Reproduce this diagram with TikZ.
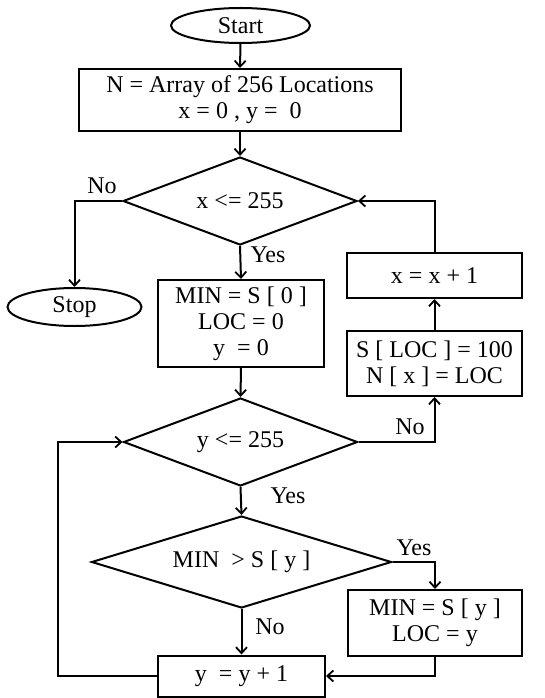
\documentclass[tikz,border=0pt]{standalone}
\usepackage{fontspec}
\setmainfont{Liberation Serif}
\usetikzlibrary{shapes.geometric,arrows.meta}
\begin{document}
\begin{tikzpicture}[x=1pt,y=-1pt,
  every node/.style={font=\fontsize{24}{26}\selectfont},
  base/.style={draw,line width=2pt,inner sep=0pt,align=center},
  term/.style={base,ellipse},
  proc/.style={base,rectangle},
  dec/.style={base,diamond},
  lbl/.style={inner sep=0pt},
  line/.style={line width=2pt},
  arr/.style={line,-{Straight Barb[length=6pt,width=11pt,line width=1.8pt]}}
]
\useasboundingbox (0,0) rectangle (545,698);
\node[term,minimum width=139pt,minimum height=35pt] (start) at (240.5,25.5) {Start};
\node[proc,minimum width=322pt,minimum height=62pt] (box1) at (240,100) {N = Array of 256 Locations\\x = 0 , y = \ 0};
\node[dec,aspect=2.66,minimum width=234pt,minimum height=88pt] (d1) at (240,201) {x <= 255};
\node[term,minimum width=134pt,minimum height=38pt] (stop) at (74.5,307) {Stop};
\node[proc,minimum width=166pt,minimum height=87pt] (box2) at (241,323.5) {MIN = S [ 0 ]\\LOC = 0\\y \ = 0};
\node[dec,aspect=2.66,minimum width=234pt,minimum height=88pt] (d2) at (240.5,442) {y <= 255};
\node[proc,minimum width=175pt,minimum height=65pt] (boxS) at (434.5,363.5) {S [ LOC ] = 100\\N [ x ] = LOC};
\node[proc,minimum width=175pt,minimum height=45pt] (boxX) at (434.5,275.5) {x = x + 1};
\node[dec,aspect=3.26,minimum width=300pt,minimum height=92pt] (d3) at (241.5,562) {MIN \ > S [ y ]};
\node[proc,minimum width=174pt,minimum height=66pt] (boxM) at (435,623) {MIN = S [ y ]\\LOC = y};
\node[proc,minimum width=167pt,minimum height=41pt] (boxY) at (241.5,676) {y \ = y + 1};
\coordinate (loopc) at (58,676);

\node[lbl] (l1) at (102,186) {No};
\node[lbl] (l2) at (268,255) {Yes};
\node[lbl] (l3) at (410,427) {No};
\node[lbl] (l4) at (288,496) {Yes};
\node[lbl] (l5) at (414,548) {Yes};
\node[lbl] (l6) at (270,627) {No};

\draw[arr] (start.south) -- (box1.north);
\draw[arr] (box1.south) -- (d1.north);
\draw[arr] (d1.west) -| (stop.north);
\draw[arr] (d1.south) -- (box2.north);
\draw[arr] (box2.south) -- (d2.north);
\draw[arr] (d2.east) -| (boxS.south);
\draw[arr] (boxS.north) -- (boxX.south);
\draw[arr] (boxX.north) |- (d1.east);
\draw[arr] (d2.south) -- (d3.north);
\draw[arr] (d3.east) -| (boxM.north);
\draw[arr] (d3.south) -- (boxY.north);
\draw[arr] (boxM.south) |- (boxY.east);
\draw[arr] (boxY.west) -- (loopc) |- (d2.west);
\end{tikzpicture}
\end{document}
